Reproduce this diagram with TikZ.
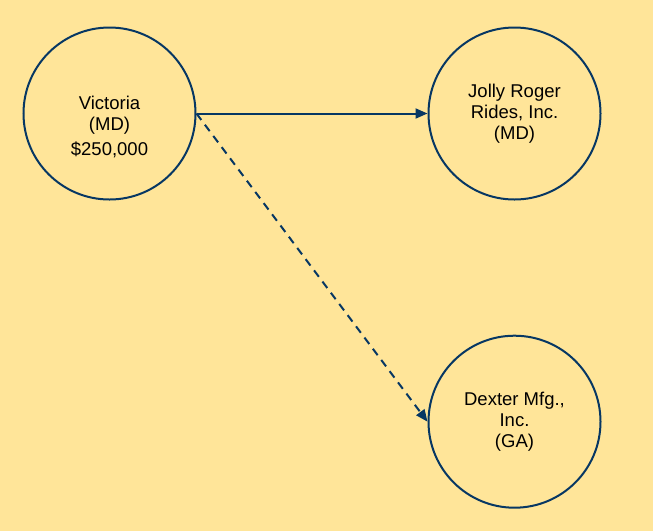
\documentclass[tikz,border=0pt]{standalone}
\usepackage{fontspec}
\setmainfont{Liberation Sans}
\usetikzlibrary{arrows.meta}
\definecolor{bgyellow}{HTML}{FFE599}
\definecolor{navy}{HTML}{073763}
\begin{document}
\begin{tikzpicture}[x=1pt,y=-1pt,
  entity/.style={circle,draw=navy,line width=2pt,minimum size=172pt,inner sep=0pt,
    align=center,font=\fontsize{18.5}{21}\selectfont,text=black},
  lbl/.style={align=center,font=\fontsize{18.5}{21}\selectfont,text=black,inner sep=0pt},
  link/.style={draw=navy,line width=2pt,-{Triangle[length=12pt,width=10pt]}},
  dlink/.style={link,dash pattern=on 8pt off 6pt}]
\fill[bgyellow] (0,0) rectangle (653,531);
\useasboundingbox (0,0) rectangle (653,531);
\node[entity] (vic) at (109.5,113.5) {};
\node[lbl] (victxt) at (109.5,127) {Victoria\\(MD)\\[4pt]\$250,000};
\node[entity] (jr) at (514.5,113.5) {Jolly Roger\\Rides, Inc.\\(MD)};
\node[entity] (dx) at (514.5,421.7) {Dexter Mfg.,\\Inc.\\(GA)};
\draw[link] (vic.east) -- (jr.west);
\draw[dlink] (vic.east) -- (dx.west);
\end{tikzpicture}
\end{document}
